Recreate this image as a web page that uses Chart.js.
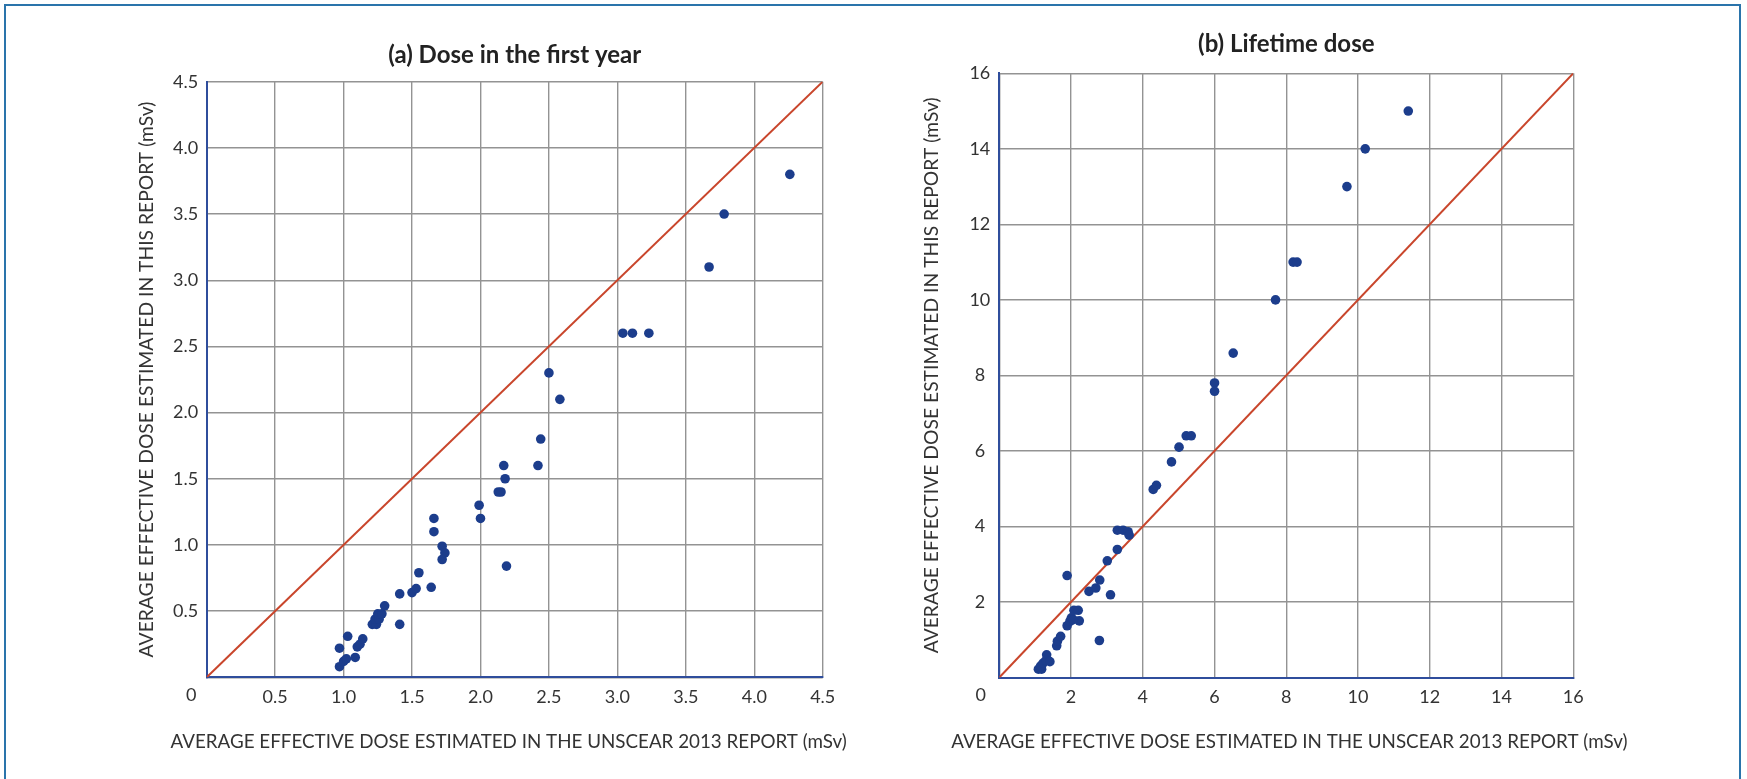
<!doctype html>
<html lang="en">
<head>
<meta charset="utf-8">
<style>
    html, body { margin: 0; padding: 0; background: #fff; }
    body { width: 1747px; height: 779px; position: relative; overflow: hidden; }
    .frame { position: absolute; left: 4px; top: 4px; width: 1737px; height: 800px; border: 2px solid #2a74ab; box-sizing: border-box; }
    .box { position: absolute; }
</style>
</head>
<body>
    <div class="frame"></div>
    <div class="box" style="left:120px;top:20px;width:760px;height:740px"><canvas id="chartA"></canvas></div>
    <div class="box" style="left:900px;top:10px;width:760px;height:750px"><canvas id="chartB"></canvas></div>

    <script src="https://cdn.jsdelivr.net/npm/chart.js"></script>
    <script>
    // (a) dose in the first year: UNSCEAR 2013 estimate vs this report (mSv)
    const firstYearUnscear = [0.97, 1.00, 1.02, 0.97, 1.03, 1.085, 1.10, 1.12, 1.14, 1.21, 1.24, 1.23, 1.26,
        1.25, 1.28, 1.30, 1.41, 1.41, 1.50, 1.53, 1.55, 1.64, 1.66, 1.66, 1.72, 1.74, 1.72, 1.99, 2.00,
        2.13, 2.15, 2.17, 2.18, 2.19, 2.42, 2.44, 2.50, 2.58, 3.04, 3.11, 3.23, 3.67, 3.78, 4.26];
    const firstYearThis = [0.08, 0.12, 0.14, 0.22, 0.31, 0.15, 0.23, 0.25, 0.29, 0.40, 0.40, 0.44, 0.44,
        0.48, 0.48, 0.54, 0.63, 0.40, 0.64, 0.67, 0.79, 0.68, 1.20, 1.10, 0.99, 0.94, 0.89, 1.30, 1.20,
        1.40, 1.40, 1.60, 1.50, 0.84, 1.60, 1.80, 2.30, 2.10, 2.60, 2.60, 2.60, 3.10, 3.50, 3.80];

    // (b) lifetime dose
    const lifetimeUnscear = [1.09, 1.18, 1.15, 1.22, 1.32, 1.30, 1.41, 1.60, 1.62, 1.71, 1.89, 1.97, 2.01,
        2.08, 2.20, 2.23, 2.06, 1.89, 2.50, 2.69, 2.80, 3.10, 3.01, 2.79, 3.29, 3.29, 3.45, 3.59, 3.62,
        4.29, 4.38, 4.80, 5.01, 5.21, 5.35, 6.00, 6.00, 6.52, 7.70, 8.19, 8.30, 9.69, 10.20, 11.40];
    const lifetimeThis = [0.22, 0.22, 0.30, 0.38, 0.60, 0.45, 0.42, 0.84, 0.96, 1.09, 1.37, 1.49, 1.58,
        1.78, 1.78, 1.50, 1.53, 2.70, 2.28, 2.37, 2.58, 2.19, 3.09, 0.98, 3.39, 3.90, 3.90, 3.86, 3.77,
        4.98, 5.09, 5.71, 6.10, 6.40, 6.40, 7.80, 7.58, 8.59, 10.00, 11.00, 11.00, 13.00, 14.00, 15.00];

    const firstYearTicks = [0, 0.5, 1.0, 1.5, 2.0, 2.5, 3.0, 3.5, 4.0, 4.5];
    const lifetimeTicks = [0, 2, 4, 6, 8, 10, 12, 14, 16];

    // line of equality
    const equalityA = [0, 4.5];
    const equalityB = [0, 16];

    const xTitle = 'AVERAGE EFFECTIVE DOSE ESTIMATED IN THE UNSCEAR 2013 REPORT (mSv)';
    const yTitle = 'AVERAGE EFFECTIVE DOSE ESTIMATED IN THIS REPORT (mSv)';

    const FONT = 'Lato';
    const TEXT = '#333';

    // the "0" below-left of the origin, and the x title (wider than the plot,
    // which the built-in scale title would squeeze)
    const axisText = {
        id: 'axisText',
        afterDraw(chart, args, opts) {
            const {ctx, chartArea, scales: {x, y}} = chart;
            ctx.save();
            ctx.fillStyle = TEXT;
            ctx.textAlign = 'center';
            ctx.textBaseline = 'middle';
            ctx.font = `18px ${FONT}`;
            ctx.fillText('0', x.getPixelForValue(0) - opts.dx, y.getPixelForValue(0) + opts.dy);
            ctx.font = `18.8px ${FONT}`;
            ctx.fillText(xTitle, (chartArea.left + chartArea.right) / 2 + opts.titleDx, chartArea.bottom + opts.titleDy);
            ctx.restore();
        }
    };

    function makeChart(id, cfg) {
        const points = cfg.xs.map((v, i) => ({x: v, y: cfg.ys[i]}));
        const line = cfg.line.map(v => ({x: v, y: v}));
        const max = cfg.ticks[cfg.ticks.length - 1];
        const grid = { color: '#939393', lineWidth: 1.4, drawTicks: false };
        const border = { color: '#2f4d9c', width: 2 };

        return new Chart(document.getElementById(id), {
            type: 'scatter',
            data: {
                datasets: [{
                    data: points,
                    backgroundColor: '#1c3d8c',
                    borderWidth: 0,
                    pointRadius: 4.8,
                    clip: false
                }, {
                    type: 'line',
                    data: line,
                    borderColor: '#c9462c',
                    borderWidth: 2,
                    pointRadius: 0,
                    fill: false
                }]
            },
            plugins: [axisText],
            options: {
                responsive: true,
                maintainAspectRatio: false,
                animation: false,
                layout: { padding: { left: 0, top: 0, right: cfg.padRight, bottom: 0 } },
                scales: {
                    x: {
                        type: 'linear', min: 0, max: max,
                        afterBuildTicks: s => { s.ticks = cfg.ticks.map(v => ({value: v})); },
                        ticks: {
                            callback: v => v === 0 ? '' : cfg.fmt(v),
                            padding: 9, autoSkip: false, maxRotation: 0,
                            font: { family: FONT, size: 18 }, color: TEXT
                        },
                        grid: grid,
                        border: border,
                        afterFit: s => { s.height = cfg.xHeight; s.paddingLeft = 0; s.paddingRight = 0; }
                    },
                    y: {
                        type: 'linear', min: 0, max: max,
                        afterBuildTicks: s => { s.ticks = cfg.ticks.map(v => ({value: v})); },
                        ticks: {
                            callback: v => v === 0 ? '' : cfg.fmt(v),
                            padding: cfg.yPad, crossAlign: cfg.crossAlign, autoSkip: false,
                            font: { family: FONT, size: 18 }, color: TEXT
                        },
                        grid: grid,
                        border: border,
                        title: {
                            display: true, text: yTitle, color: TEXT,
                            font: { family: FONT, size: 19.3 },
                            padding: { top: cfg.yTitlePad, bottom: 0 }
                        },
                        afterFit: s => { s.width = cfg.yWidth; s.paddingTop = 0; s.paddingBottom = 0; }
                    }
                },
                plugins: {
                    legend: { display: false },
                    tooltip: { enabled: false },
                    title: {
                        display: true, text: cfg.title, fullSize: false, color: '#222',
                        font: { family: FONT, size: 24, weight: 'bold' },
                        padding: cfg.titlePad
                    },
                    axisText: cfg.text
                }
            }
        });
    }

    makeChart('chartA', {
        xs: firstYearUnscear, ys: firstYearThis, line: equalityA, ticks: firstYearTicks,
        fmt: v => v.toFixed(1), title: '(a) Dose in the first year',
        padRight: 57.3, xHeight: 82.7, yWidth: 86.7, yPad: 8.5, crossAlign: 'near', yTitlePad: 15.4,
        titlePad: { top: 20.6, bottom: 12.3 },
        text: { dx: 15.5, dy: 17.5, titleDx: -6, titleDy: 64.7 }
    });

    makeChart('chartB', {
        xs: lifetimeUnscear, ys: lifetimeThis, line: equalityB, ticks: lifetimeTicks,
        fmt: v => String(v), title: '(b) Lifetime dose',
        padRight: 86.7, xHeight: 82.5, yWidth: 99.3, yPad: 9, crossAlign: 'center', yTitlePad: 19.9,
        titlePad: { top: 20.1, bottom: 14.4 },
        text: { dx: 18.5, dy: 17.5, titleDx: 3, titleDy: 64.5 }
    });
    </script>
</body>
</html>
